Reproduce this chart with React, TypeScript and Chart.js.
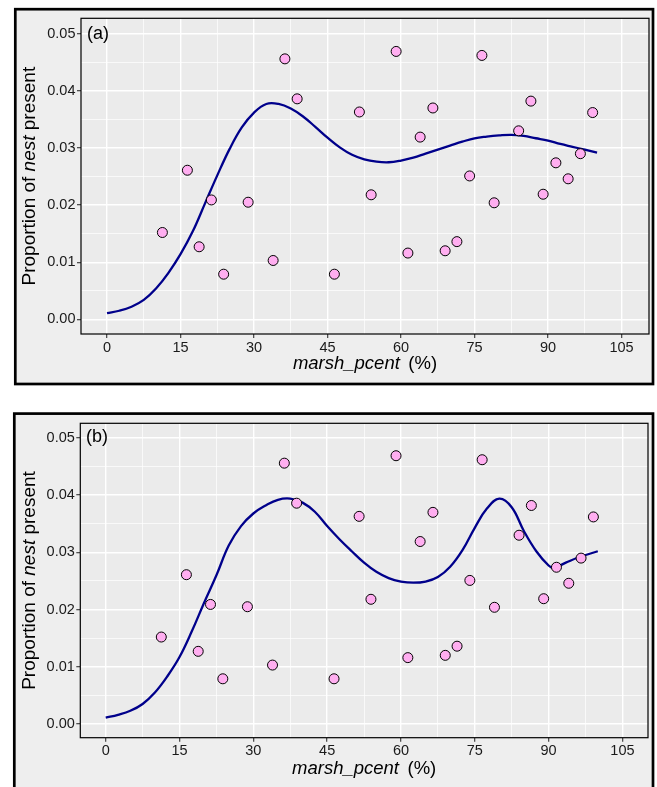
import React, { useEffect, useRef } from "react";
import { Chart, registerables } from "chart.js";

Chart.register(...registerables);

// ---- data ----
const marshPcent = [11.3, 16.4, 18.8, 21.3, 23.8, 28.8, 33.9, 36.3, 38.8, 46.4, 51.5, 53.9, 59.0, 61.4, 63.9, 66.5, 69.0, 71.4, 74.0, 76.5, 79.0, 84.0, 86.5, 89.0, 91.6, 94.1, 96.6, 99.1];
const nestPresent = [0.0152, 0.0261, 0.0127, 0.0209, 0.0079, 0.0205, 0.0103, 0.0456, 0.0386, 0.0079, 0.0363, 0.0218, 0.0469, 0.0116, 0.0319, 0.0370, 0.0120, 0.0136, 0.0251, 0.0462, 0.0204, 0.0330, 0.0382, 0.0219, 0.0274, 0.0246, 0.0290, 0.0362];

const curveAX = [0, 2.5, 5, 7.5, 10, 12.5, 15, 17.5, 20, 22.5, 25, 27.5, 30, 32.5, 35, 37.5, 40, 42.5, 45, 47.5, 50, 52.5, 55, 57.5, 60, 62.5, 65, 67.5, 70, 72.5, 75, 77.5, 80, 82.5, 85, 87.5, 90, 92.5, 95, 97.5, 100];
const curveAY = [0.0011, 0.0015, 0.0022, 0.0034, 0.0054, 0.0081, 0.0114, 0.0154, 0.0203, 0.0252, 0.0298, 0.0336, 0.0362, 0.0377, 0.0377, 0.0369, 0.0355, 0.0337, 0.0318, 0.0301, 0.0288, 0.0280, 0.0276, 0.0275, 0.0278, 0.0283, 0.0290, 0.0297, 0.0304, 0.0311, 0.0317, 0.0320, 0.0322, 0.0323, 0.0321, 0.0317, 0.0313, 0.0307, 0.0302, 0.0297, 0.0292];

const curveBX = [0, 2.5, 5, 7.5, 10, 12.5, 15, 17.5, 20, 22.5, 25, 27.5, 30, 32.5, 35, 37.5, 40, 42.5, 45, 47.5, 50, 52.5, 55, 57.5, 60, 62.5, 65, 67.5, 70, 72.5, 75, 77.5, 80, 82.5, 85, 87.5, 90, 91, 93.5, 96, 100];
const curveBY = [0.0011, 0.0016, 0.0023, 0.0035, 0.0055, 0.0083, 0.0117, 0.0162, 0.0212, 0.0260, 0.0312, 0.0346, 0.0368, 0.0382, 0.0392, 0.0394, 0.0387, 0.0371, 0.0346, 0.0323, 0.0302, 0.0282, 0.0266, 0.0255, 0.0249, 0.0247, 0.0249, 0.0257, 0.0275, 0.0304, 0.0343, 0.0377, 0.0394, 0.0379, 0.0337, 0.0302, 0.0277, 0.0273, 0.0282, 0.0291, 0.0302];

const xMajorTicks = [0, 15, 30, 45, 60, 75, 90, 105];
const xMinorTicks = [7.5, 22.5, 37.5, 52.5, 67.5, 82.5, 97.5];
const yMajorTicks = [0, 0.01, 0.02, 0.03, 0.04, 0.05];
const yMinorTicks = [0.005, 0.015, 0.025, 0.035, 0.045];

const panelLabels = ["(a)", "(b)"];
const xTitleItalic = "marsh_pcent";
const xTitleRest = "(%)";
const yTitleParts = ["Proportion of ", "nest", " present"];

const FAMILY = '"Liberation Sans", Arial, Helvetica, sans-serif';

type Panel = {
  top: number;
  height: number;
  plot: { left: number; top: number; right: number; bottom: number };
  box: { left: number; top: number; right: number; bottom: number };
  xMin: number; xMax: number; yMin: number; yMax: number;
  yTitleX: number; xTitleY: number;
  label: string; labelX: number; labelY: number;
  curveX: number[]; curveY: number[];
};

const panels: Panel[] = [
  {
    top: 0, height: 395,
    plot: { left: 81, top: 18.3, right: 649, bottom: 334 },
    box: { left: 15.3, top: 9.2, right: 653, bottom: 384 },
    xMin: -5.31, xMax: 110.6, yMin: -0.00257, yMax: 0.0527,
    yTitleX: 35, xTitleY: 369,
    label: panelLabels[0], labelX: 87, labelY: 33.7,
    curveX: curveAX, curveY: curveAY,
  },
  {
    top: 395, height: 392,
    plot: { left: 80.3, top: 28.3, right: 648, bottom: 342.7 },
    box: { left: 14.3, top: 18.6, right: 653, bottom: 420 },
    xMin: -5.16, xMax: 110.2, yMin: -0.0024, yMax: 0.05257,
    yTitleX: 34.5, xTitleY: 379,
    label: panelLabels[1], labelX: 86, labelY: 42,
    curveX: curveBX, curveY: curveBY,
  },
];

const isMajor = (v: number, list: number[]) => list.some((m) => Math.abs(m - v) < 1e-9);

function makeDecor(p: Panel) {
  return {
    id: "decor",
    beforeDraw(chart: any) {
      const ctx = chart.ctx;
      ctx.save();
      ctx.fillStyle = "#ffffff";
      ctx.fillRect(0, 0, chart.width, chart.height);
      const b = p.box;
      ctx.fillStyle = "#EEEEEE";
      ctx.fillRect(b.left, b.top, b.right - b.left, b.bottom - b.top);
      ctx.strokeStyle = "#000";
      ctx.lineWidth = 2.7;
      ctx.strokeRect(b.left, b.top, b.right - b.left, b.bottom - b.top);
      const a = chart.chartArea;
      ctx.fillStyle = "#EBEBEB";
      ctx.fillRect(a.left, a.top, a.right - a.left, a.bottom - a.top);
      ctx.restore();
    },
    afterDraw(chart: any) {
      const ctx = chart.ctx;
      const a = chart.chartArea;
      ctx.save();
      ctx.strokeStyle = "#000";
      ctx.lineWidth = 1.2;
      ctx.strokeRect(a.left, a.top, a.right - a.left, a.bottom - a.top);

      // panel label
      ctx.fillStyle = "#000";
      ctx.font = `18px ${FAMILY}`;
      ctx.textAlign = "left";
      ctx.textBaseline = "middle";
      ctx.fillText(p.label, p.labelX, p.labelY);

      // x title
      ctx.textBaseline = "alphabetic";
      const xs = 18.5;
      ctx.font = `italic ${xs}px ${FAMILY}`;
      const w1 = ctx.measureText(xTitleItalic).width;
      ctx.font = `${xs}px ${FAMILY}`;
      const w2 = ctx.measureText(xTitleRest).width;
      const gap = 8.5;
      const cx = (a.left + a.right) / 2;
      const x0 = cx - (w1 + gap + w2) / 2;
      ctx.font = `italic ${xs}px ${FAMILY}`;
      ctx.fillText(xTitleItalic, x0, p.xTitleY);
      ctx.font = `${xs}px ${FAMILY}`;
      ctx.fillText(xTitleRest, x0 + w1 + gap, p.xTitleY);

      // y title
      const ys = 19;
      const fonts = [`${ys}px ${FAMILY}`, `italic ${ys}px ${FAMILY}`, `${ys}px ${FAMILY}`];
      const widths = yTitleParts.map((t, i) => {
        ctx.font = fonts[i];
        return ctx.measureText(t).width;
      });
      const total = widths.reduce((s, w) => s + w, 0);
      const cy = (a.top + a.bottom) / 2;
      ctx.translate(p.yTitleX, cy);
      ctx.rotate(-Math.PI / 2);
      let pos = -total / 2;
      yTitleParts.forEach((t, i) => {
        ctx.font = fonts[i];
        ctx.fillText(t, pos, 0);
        pos += widths[i];
      });
      ctx.restore();
    },
  };
}

function PanelChart({ p }: { p: Panel }) {
  const ref = useRef<HTMLCanvasElement | null>(null);
  useEffect(() => {
    if (!ref.current) return;
    const points = marshPcent.map((x, i) => ({ x, y: nestPresent[i] }));
    const curve = p.curveX.map((x, i) => ({ x, y: p.curveY[i] }));
    const xTicks = [...xMajorTicks, ...xMinorTicks].sort((a, b) => a - b);
    const yTicks = [...yMajorTicks, ...yMinorTicks].sort((a, b) => a - b);
    const chart = new Chart(ref.current, {
      type: "scatter",
      data: {
        datasets: [
          {
            data: points,
            order: 0,
            pointRadius: 5,
            pointBorderWidth: 1,
            pointBackgroundColor: "#FFAEF0",
            pointBorderColor: "#000",
            showLine: false,
          } as any,
          {
            data: curve,
            order: 1,
            showLine: true,
            pointRadius: 0,
            borderColor: "#00008B",
            borderWidth: 2.3,
            fill: false,
            tension: 0.4,
          } as any,
        ],
      },
      plugins: [makeDecor(p)],
      options: {
        animation: false,
        responsive: false,
        devicePixelRatio: 1,
        events: [],
        layout: {
          padding: { left: 0, top: p.plot.top, right: 657 - p.plot.right, bottom: 0 },
        },
        plugins: { legend: { display: false }, tooltip: { enabled: false } },
        scales: {
          x: {
            type: "linear",
            min: p.xMin,
            max: p.xMax,
            afterBuildTicks: (axis: any) => {
              axis.ticks = xTicks.map((v) => ({ value: v }));
            },
            afterFit: (s: any) => {
              s.height = p.height - p.plot.bottom;
            },
            border: { display: false },
            grid: {
              color: "#ffffff",
              lineWidth: (c: any) => (isMajor(c.tick?.value, xMajorTicks) ? 1.4 : 0.7),
              tickLength: 4,
              tickWidth: 1.1,
              tickColor: (c: any) => (isMajor(c.tick?.value, xMajorTicks) ? "#333333" : "rgba(0,0,0,0)"),
            },
            ticks: {
              autoSkip: false,
              maxRotation: 0,
              padding: 1,
              color: "#1a1a1a",
              font: { family: FAMILY, size: 14.5 },
              callback: (v: any) => (isMajor(Number(v), xMajorTicks) ? String(Math.round(Number(v))) : ""),
            },
          },
          y: {
            type: "linear",
            min: p.yMin,
            max: p.yMax,
            afterBuildTicks: (axis: any) => {
              axis.ticks = yTicks.map((v) => ({ value: v }));
            },
            afterFit: (s: any) => {
              s.width = p.plot.left;
            },
            border: { display: false },
            grid: {
              color: "#ffffff",
              lineWidth: (c: any) => (isMajor(c.tick?.value, yMajorTicks) ? 1.4 : 0.7),
              tickLength: 4,
              tickWidth: 1.1,
              tickColor: (c: any) => (isMajor(c.tick?.value, yMajorTicks) ? "#333333" : "rgba(0,0,0,0)"),
            },
            ticks: {
              autoSkip: false,
              padding: 1.5,
              color: "#1a1a1a",
              font: { family: FAMILY, size: 14.5 },
              callback: (v: any) => (isMajor(Number(v), yMajorTicks) ? Number(v).toFixed(2) : ""),
            },
          },
        },
      } as any,
    });
    return () => chart.destroy();
  }, [p]);
  return (
    <canvas
      ref={ref}
      width={657}
      height={p.height}
      style={{ position: "absolute", left: 0, top: p.top, width: 657, height: p.height, display: "block" }}
    />
  );
}

export default function App() {
  return (
    <div style={{ position: "absolute", left: 0, top: 0, width: 657, height: 787, background: "#fff", overflow: "hidden" }}>
      {panels.map((p, i) => (
        <PanelChart key={i} p={p} />
      ))}
    </div>
  );
}
